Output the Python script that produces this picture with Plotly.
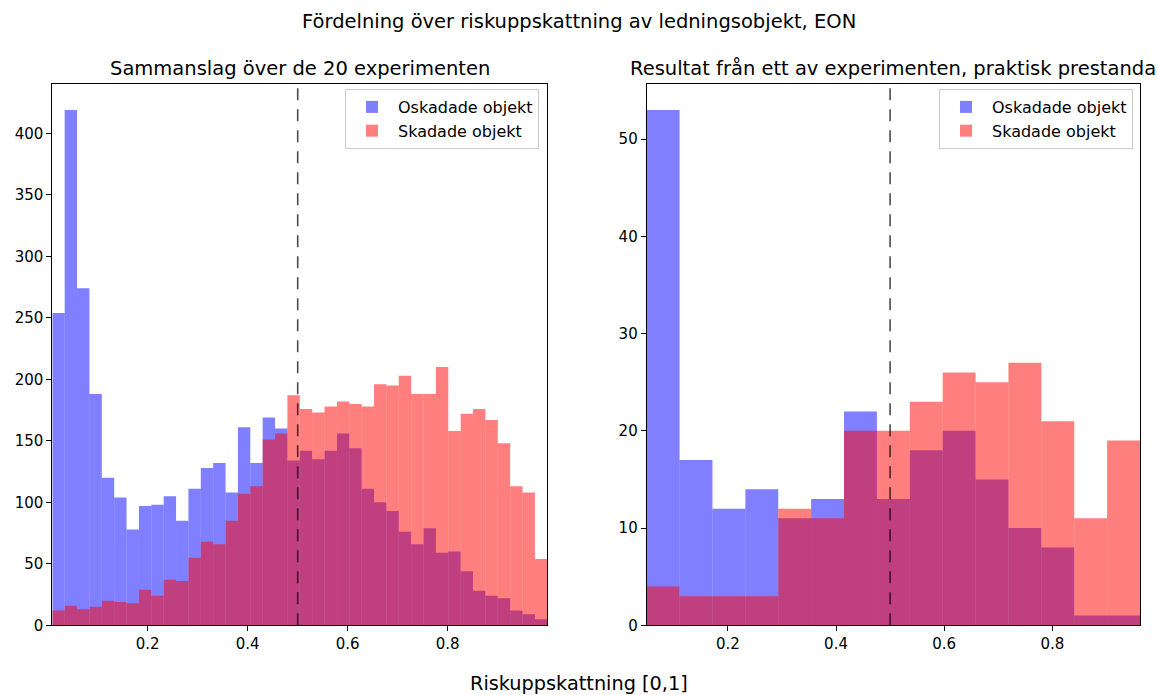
import numpy as np
import plotly.graph_objects as go

# ---------------- data ----------------
SUPTITLE = "Fördelning över riskuppskattning av ledningsobjekt, EON"
XLABEL = "Riskuppskattning [0,1]"
TITLE_LEFT = "Sammanslag över de 20 experimenten"
TITLE_RIGHT = "Resultat från ett av experimenten, praktisk prestanda"
NAME_UNDAMAGED = "Oskadade objekt"
NAME_DAMAGED = "Skadade objekt"
THRESHOLD = 0.5

# left panel: 40 bins
left_range = [0.0092, 0.9992]
left_undamaged = [254, 419, 274, 188, 120, 104, 78, 97, 98, 105,
                  85, 111, 128, 132, 108, 161, 132, 169, 160, 134,
                  142, 135, 142, 156, 144, 111, 100, 93, 76, 66,
                  79, 59, 60, 44, 28, 24, 22, 12, 9, 5]
left_damaged = [12, 16, 13, 15, 20, 19, 18, 29, 24, 37,
                36, 55, 68, 66, 85, 107, 113, 151, 156, 187,
                176, 173, 178, 182, 180, 178, 196, 195, 203, 188,
                188, 210, 158, 172, 176, 167, 148, 113, 108, 54]

# right panel: 15 bins
right_range = [0.0499, 0.9622]
right_undamaged = [53, 17, 12, 14, 11, 13, 22, 13, 18, 20, 15, 10, 8, 1, 1]
right_damaged = [4, 3, 3, 3, 12, 11, 20, 20, 23, 26, 25, 27, 21, 11, 19]

x_ticks = [0.2, 0.4, 0.6, 0.8]
left_yticks = [0, 50, 100, 150, 200, 250, 300, 350, 400]
right_yticks = [0, 10, 20, 30, 40, 50]

# ---------------- style ----------------
W, H = 1157, 695
FONT = "DejaVu Sans"
BLUE = "rgba(0,0,255,0.5)"
RED = "rgba(255,0,0,0.5)"


def bins(rng, n):
    edges = np.linspace(rng[0], rng[1], n + 1)
    return (edges[:-1] + edges[1:]) / 2, edges[1] - edges[0]


def px_x(p):
    return p / W


def px_y(p):
    return 1 - p / H


fig = go.Figure()

lc, lw = bins(left_range, len(left_undamaged))
rc, rw = bins(right_range, len(right_undamaged))

for xs, wd, ys, name, col, xa, ya, lg in [
    (lc, lw, left_undamaged, NAME_UNDAMAGED, BLUE, "x", "y", "legend"),
    (lc, lw, left_damaged, NAME_DAMAGED, RED, "x", "y", "legend"),
    (rc, rw, right_undamaged, NAME_UNDAMAGED, BLUE, "x2", "y2", "legend2"),
    (rc, rw, right_damaged, NAME_DAMAGED, RED, "x2", "y2", "legend2"),
]:
    fig.add_trace(go.Bar(x=xs, y=ys, width=wd, name=name,
                         marker=dict(color=col, line=dict(width=0)),
                         xaxis=xa, yaxis=ya, legend=lg))

ax_common = dict(showline=True, mirror=True, linecolor="black", linewidth=1,
                 ticks="outside", ticklen=5, tickwidth=1, tickcolor="black",
                 showgrid=False, zeroline=False, automargin=False,
                 tickfont=dict(family=FONT, size=15, color="black"))

ydom = [px_y(625.3), px_y(84.3)]
leg_common = dict(xanchor="right", yanchor="top", itemwidth=42,
                  bgcolor="rgba(255,255,255,0.8)", bordercolor="#cccccc", borderwidth=1,
                  font=dict(family=FONT, size=16, color="black"))
fig.update_layout(
    template="none",
    width=W, height=H, autosize=False,
    margin=dict(l=0, r=0, t=0, b=0, pad=0, autoexpand=False),
    paper_bgcolor="white", plot_bgcolor="white",
    barmode="overlay",
    font=dict(family=FONT, size=15, color="black"),
    xaxis=dict(domain=[px_x(52.3), px_x(547.3)], range=left_range,
               tickvals=x_ticks, tickformat=".1f", anchor="y", **ax_common),
    yaxis=dict(domain=ydom, range=[0, max(max(left_undamaged), max(left_damaged)) * 1.05],
               tickvals=left_yticks, anchor="x", **ax_common),
    xaxis2=dict(domain=[px_x(646.7), px_x(1140)], range=right_range,
                tickvals=x_ticks, tickformat=".1f", anchor="y2", **ax_common),
    yaxis2=dict(domain=ydom, range=[0, max(max(right_undamaged), max(right_damaged)) * 1.05],
                tickvals=right_yticks, anchor="x2", **ax_common),
    legend=dict(x=px_x(539), y=px_y(89), **leg_common),
    legend2=dict(x=px_x(1133), y=px_y(89), **leg_common),
    showlegend=True,
)

for xr, yr in [("x", "y domain"), ("x2", "y2 domain")]:
    fig.add_shape(type="line", xref=xr, yref=yr, x0=THRESHOLD, x1=THRESHOLD, y0=0, y1=1,
                  line=dict(color="rgba(0,0,0,0.7)", width=1.6, dash="12px,9px"))

annots = [
    (SUPTITLE, px_x(578.5), px_y(21.5), 19.5),
    (TITLE_LEFT, px_x(299.8), px_y(68.5), 19.5),
    (TITLE_RIGHT, px_x(892.5), px_y(68.5), 19.5),
    (XLABEL, px_x(578.5), px_y(683.3), 19.3),
]
for txt, x, y, s in annots:
    fig.add_annotation(text=txt, x=x, y=y, xref="paper", yref="paper",
                       xanchor="center", yanchor="middle", showarrow=False,
                       borderpad=0,
                       font=dict(family=FONT, size=s, color="black"))

fig.write_html("out.html")
